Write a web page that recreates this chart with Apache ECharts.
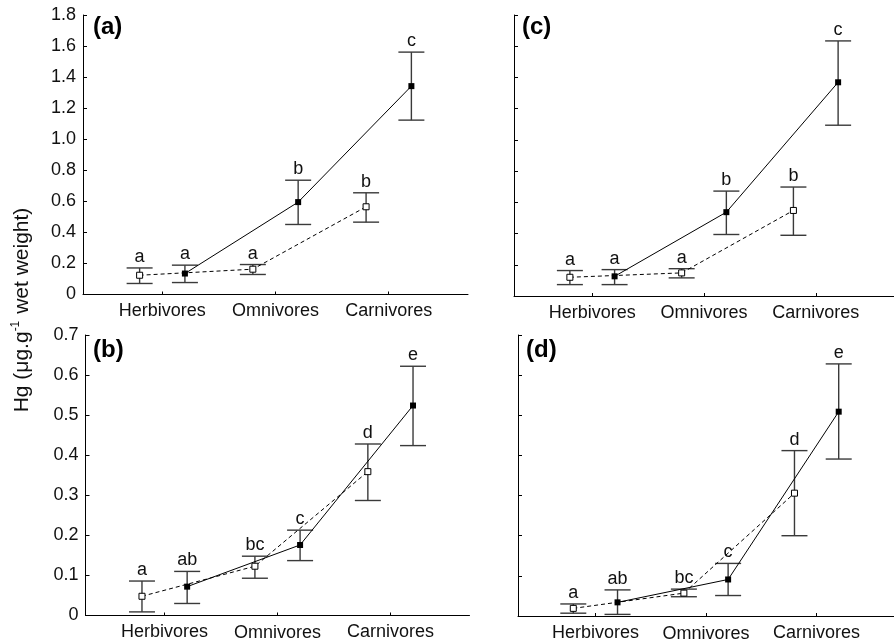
<!DOCTYPE html>
<html><head><meta charset="utf-8">
<script src="https://cdn.jsdelivr.net/npm/echarts@6/dist/echarts.min.js"></script>
<style>html,body{margin:0;padding:0;background:#fff}#c{width:894px;height:644px}</style>
</head><body><div id="c"></div>
<script>
const categories = ['Herbivores', 'Omnivores', 'Carnivores'];
const categoryPositions = [1, 2, 3];

// Panel (a)
const aOpenMean = [0.124, 0.163, 0.565];
const aOpenLow = [0.071, 0.129, 0.466];
const aOpenHigh = [0.171, 0.193, 0.655];
const aOpenLetters = ['a', 'a', 'b'];
const aClosedMean = [0.135, 0.595, 1.342];
const aClosedLow = [0.077, 0.451, 1.123];
const aClosedHigh = [0.189, 0.736, 1.561];
const aClosedLetters = ['a', 'b', 'c'];

// Panel (c)
const cOpenMean = [0.120, 0.148, 0.548];
const cOpenLow = [0.073, 0.116, 0.389];
const cOpenHigh = [0.163, 0.175, 0.698];
const cOpenLetters = ['a', 'a', 'b'];
const cClosedMean = [0.126, 0.537, 1.369];
const cClosedLow = [0.073, 0.394, 1.094];
const cClosedHigh = [0.169, 0.672, 1.634];
const cClosedLetters = ['a', 'b', 'c'];

// Panel (b)
const bOpenMean = [0.048, 0.123, 0.359];
const bOpenLow = [0.009, 0.093, 0.287];
const bOpenHigh = [0.086, 0.148, 0.428];
const bOpenLetters = ['a', 'bc', 'd'];
const bClosedMean = [0.072, 0.176, 0.524];
const bClosedLow = [0.030, 0.137, 0.424];
const bClosedHigh = [0.110, 0.213, 0.622];
const bClosedLetters = ['ab', 'c', 'e'];

// Panel (d)
const dOpenMean = [0.019, 0.057, 0.306];
const dOpenLow = [0.007, 0.048, 0.200];
const dOpenHigh = [0.030, 0.067, 0.412];
const dOpenLetters = ['a', 'bc', 'd'];
const dClosedMean = [0.034, 0.091, 0.509];
const dClosedLow = [0.004, 0.051, 0.391];
const dClosedHigh = [0.065, 0.131, 0.628];
const dClosedLetters = ['ab', 'c', 'e'];

const panelNames = ['(a)', '(c)', '(b)', '(d)'];

const FONT = 'Liberation Sans, Arial, sans-serif';
const OFFSET = 0.2;

const panels = [
  {grid: {left: 83, top: 15, width: 385, height: 279.5}, yMax: 1.8, yInt: 0.2, labels: true, bottomRow: false,
   open: [aOpenMean, aOpenLow, aOpenHigh, aOpenLetters], closed: [aClosedMean, aClosedLow, aClosedHigh, aClosedLetters]},
  {grid: {left: 514, top: 15, width: 385, height: 281}, yMax: 1.8, yInt: 0.2, labels: false, bottomRow: false,
   open: [cOpenMean, cOpenLow, cOpenHigh, cOpenLetters], closed: [cClosedMean, cClosedLow, cClosedHigh, cClosedLetters]},
  {grid: {left: 85.5, top: 335, width: 384, height: 280.5}, yMax: 0.7, yInt: 0.1, labels: true, bottomRow: true,
   open: [bOpenMean, bOpenLow, bOpenHigh, bOpenLetters], closed: [bClosedMean, bClosedLow, bClosedHigh, bClosedLetters]},
  {grid: {left: 518, top: 335, width: 384, height: 281}, yMax: 0.7, yInt: 0.1, labels: false, bottomRow: true,
   open: [dOpenMean, dOpenLow, dOpenHigh, dOpenLetters], closed: [dClosedMean, dClosedLow, dClosedHigh, dClosedLetters]}
];

function makeErrRender(letters) {
  return function (params, api) {
    const x = api.value(0), lo = api.value(1), hi = api.value(2);
    const pHi = api.coord([x, hi]);
    const pLo = api.coord([x, lo]);
    const half = 13;
    const st = {stroke: '#3a3a3a', lineWidth: 1.4};
    return {
      type: 'group',
      children: [
        {type: 'line', shape: {x1: pHi[0], y1: pHi[1], x2: pLo[0], y2: pLo[1]}, style: st},
        {type: 'line', shape: {x1: pHi[0] - half, y1: pHi[1], x2: pHi[0] + half, y2: pHi[1]}, style: st},
        {type: 'line', shape: {x1: pLo[0] - half, y1: pLo[1], x2: pLo[0] + half, y2: pLo[1]}, style: st},
        {type: 'text', style: {text: letters[params.dataIndex], x: pHi[0], y: pHi[1] - 2,
          textAlign: 'center', textVerticalAlign: 'bottom', font: '18px ' + FONT, fill: '#111'}}
      ]
    };
  };
}

const grids = [], xAxes = [], yAxes = [], series = [];
panels.forEach((p, i) => {
  grids.push(p.grid);
  xAxes.push({
    type: 'value', gridIndex: i, min: 0.3, max: 3.7,
    axisLine: {show: true, lineStyle: {color: '#000', width: 1}},
    axisTick: {show: true, inside: true, length: 3, customValues: categoryPositions, lineStyle: {color: '#000'}},
    axisLabel: {show: true, customValues: categoryPositions, margin: 8, fontSize: 18, fontFamily: FONT, color: '#111',
      formatter: v => {
        const name = categories[Math.round(v) - 1] || '';
        return (p.bottomRow && Math.round(v) === 2) ? '{o|' + name + '}' : name;
      },
      rich: {o: {fontSize: 18, fontFamily: FONT, color: '#111', padding: [1, 0, 0, 0]}}},
    splitLine: {show: false}
  });
  yAxes.push({
    type: 'value', gridIndex: i, min: 0, max: p.yMax, interval: p.yInt,
    axisLine: {show: true, lineStyle: {color: '#000', width: 1}},
    axisTick: {show: true, inside: true, length: 4, lineStyle: {color: '#000'}},
    axisLabel: {show: p.labels, margin: 7, fontSize: 18, fontFamily: FONT, color: '#111',
      formatter: v => v === 0 ? '0' : v.toFixed(1)},
    splitLine: {show: false}
  });
  const groups = [
    {d: p.open, off: -OFFSET, dashed: true},
    {d: p.closed, off: OFFSET, dashed: false}
  ];
  groups.forEach(g => {
    const [mean, low, high, letters] = g.d;
    series.push({
      type: 'custom', xAxisIndex: i, yAxisIndex: i, z: 1, silent: true,
      renderItem: makeErrRender(letters),
      data: categoryPositions.map((c, k) => [c + g.off, low[k], high[k]])
    });
  });
  groups.forEach(g => {
    const mean = g.d[0];
    series.push({
      type: 'line', xAxisIndex: i, yAxisIndex: i, z: 3, silent: true, animation: false,
      data: categoryPositions.map((c, k) => [c + g.off, mean[k]]),
      symbol: 'rect', symbolSize: 6, showSymbol: true,
      lineStyle: {color: '#000', width: 1, type: g.dashed ? [4, 3] : 'solid'},
      itemStyle: g.dashed ? {color: '#fff', borderColor: '#000', borderWidth: 1} : {color: '#000', borderColor: '#000', borderWidth: 0}
    });
  });
});

const panelLabelPos = [[93, 15], [522, 15], [93, 338], [526, 338]];
const graphics = panelNames.map((t, i) => ({
  type: 'text', left: panelLabelPos[i][0], top: panelLabelPos[i][1],
  style: {text: t, font: 'bold 24px ' + FONT, fill: '#000'}
}));
graphics.push({
  type: 'text', x: 21, y: 310, rotation: Math.PI / 2,
  style: {
    text: '{n|Hg (μg.g}{s|-1}{n| wet weight)}',
    textAlign: 'center', textVerticalAlign: 'middle',
    rich: {
      n: {fontSize: 21, fontFamily: FONT, fill: '#111', lineHeight: 23, verticalAlign: 'bottom'},
      s: {fontSize: 12, fontFamily: FONT, fill: '#111', lineHeight: 23, verticalAlign: 'top', padding: [0, 1, 8, 0]}
    }
  }
});

const chart = echarts.init(document.getElementById('c'), null, {renderer: 'canvas'});
chart.setOption({
  animation: false,
  backgroundColor: '#fff',
  textStyle: {fontFamily: FONT},
  grid: grids, xAxis: xAxes, yAxis: yAxes, series: series,
  graphic: graphics
});
</script></body></html>
